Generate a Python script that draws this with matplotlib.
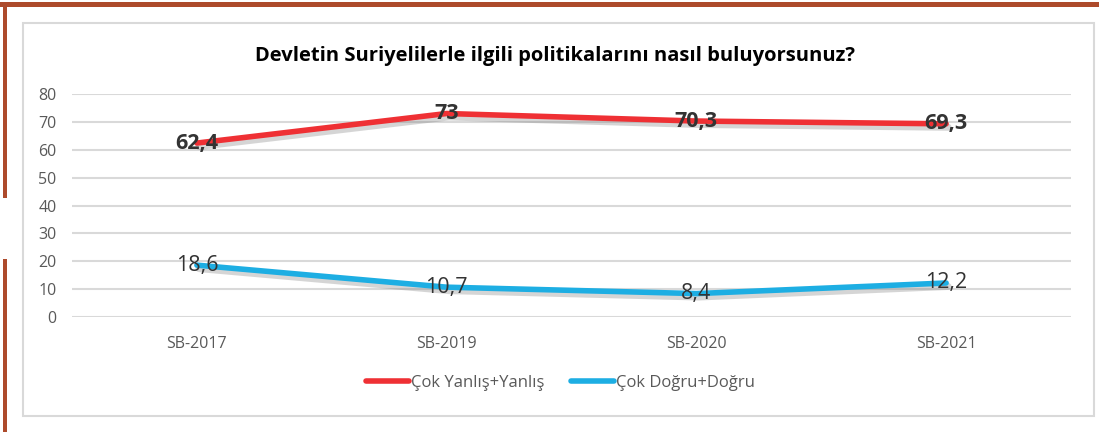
import matplotlib
matplotlib.use("Agg")
import matplotlib.pyplot as plt
import matplotlib.patheffects as pe
from matplotlib.patches import Rectangle
from matplotlib.lines import Line2D

plt.rcParams['font.family'] = ['Open Sans', 'DejaVu Sans']

# data
years = ['SB-2017', 'SB-2019', 'SB-2020', 'SB-2021']
yanlis = [62.4, 73, 70.3, 69.3]
dogru = [18.6, 10.7, 8.4, 12.2]
yanlis_labels = ['62,4', '73', '70,3', '69,3']
dogru_labels = ['18,6', '10,7', '8,4', '12,2']
series_names = ['Çok Yanlış+Yanlış', 'Çok Doğru+Doğru']
title = 'Devletin Suriyelilerle ilgili politikalarını nasıl buluyorsunuz?'

red = '#EF3034'
blue = '#1DAEE3'

W, H = 1099, 432
fig = plt.figure(figsize=(W / 100, H / 100), dpi=100)

brown = '#AD4A2B'
# decorative page border
fig.add_artist(Rectangle((0, 1 - 7 / H), 1, 5 / H, transform=fig.transFigure,
                         facecolor=brown, edgecolor='none'))
fig.add_artist(Rectangle((3 / W, 1 - 198 / H), 4 / W, 196 / H, transform=fig.transFigure,
                         facecolor=brown, edgecolor='none'))
fig.add_artist(Rectangle((3 / W, 0), 4 / W, 1 - 259 / H, transform=fig.transFigure,
                         facecolor=brown, edgecolor='none'))
# chart frame
fig.add_artist(Rectangle((23 / W, 1 - 416 / H), (1094 - 23) / W, (416 - 23) / H,
                         transform=fig.transFigure, facecolor='none',
                         edgecolor='#D9D9D9', linewidth=1.5))

ax = fig.add_axes([72 / W, 1 - 317 / H, (1071 - 72) / W, (317 - 94) / H])
x = list(range(len(years)))

shadow = [pe.SimpleLineShadow(offset=(1.5, -2.5), shadow_color='#777777', alpha=0.3,
                              linewidth=5),
          pe.Normal()]
ax.plot(x, yanlis, color=red, linewidth=4, solid_capstyle='round',
        path_effects=shadow, zorder=3)
ax.plot(x, dogru, color=blue, linewidth=4, solid_capstyle='round',
        path_effects=shadow, zorder=3)

for xi, v, s in zip(x, yanlis, yanlis_labels):
    ax.text(xi, v, s, ha='center', va='center', fontsize=15.5, fontweight='bold',
            color='#333333', zorder=4)
for xi, v, s in zip(x, dogru, dogru_labels):
    ax.text(xi, v, s, ha='center', va='center', fontsize=15.5,
            color='#333333', zorder=4)

ax.set_xlim(-0.5, len(years) - 0.5)
ax.set_ylim(0, 80)
ax.set_yticks(range(0, 81, 10))
ax.set_xticks(x)
ax.set_xticklabels(years)
ax.grid(axis='y', color='#D9D9D9', linewidth=1.5)
ax.set_axisbelow(True)
for sp in ax.spines.values():
    sp.set_visible(False)
ax.tick_params(axis='both', length=0, labelcolor='#595959', labelsize=11.5)
ax.tick_params(axis='y', pad=11)
ax.tick_params(axis='x', pad=14)

fig.text(555 / W, 1 - 56 / H, title, ha='center', va='center', fontsize=14.5,
         fontweight='bold', color='black')

handles = [Line2D([], [], color=red, linewidth=4, solid_capstyle='round'),
           Line2D([], [], color=blue, linewidth=4, solid_capstyle='round')]
fig.legend(handles, series_names, loc='center', bbox_to_anchor=(560 / W, 1 - 383 / H),
           ncol=2, frameon=False, fontsize=12, handlelength=2.6, handletextpad=0.1,
           columnspacing=1.6, labelcolor='#595959')

fig.savefig('out.png', dpi=100)
